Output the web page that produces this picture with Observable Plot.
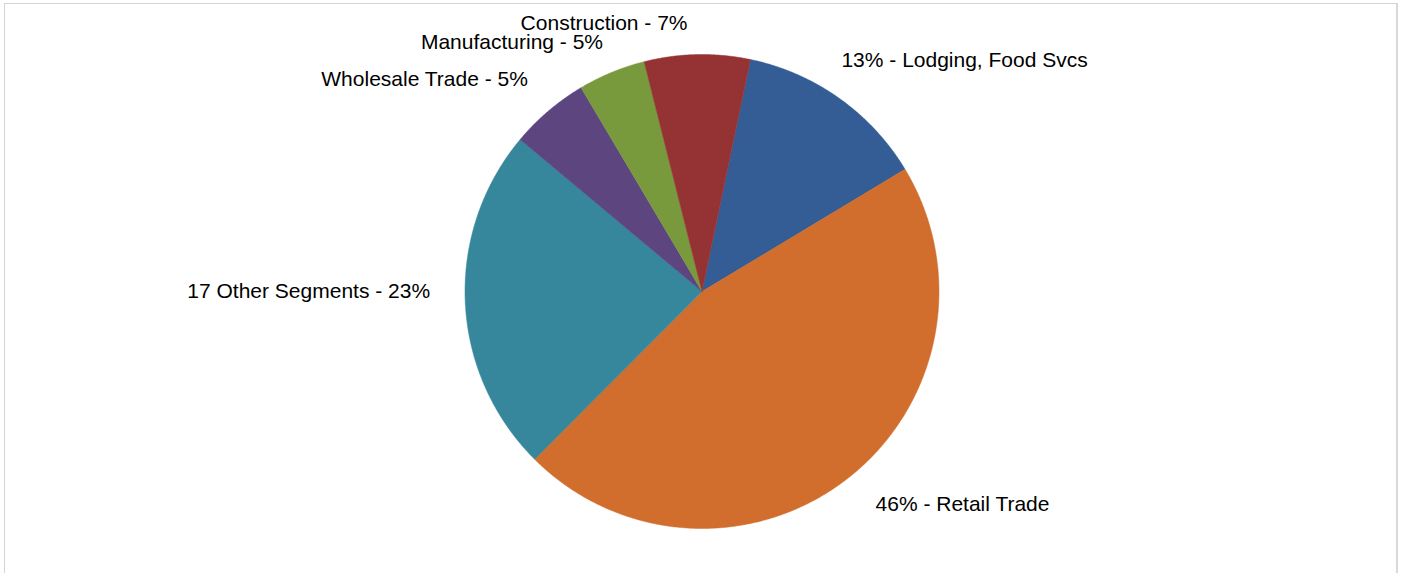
<!DOCTYPE html>
<html>
<head>
<meta charset="utf-8">
<script src="https://cdn.jsdelivr.net/npm/d3@7"></script>
<script src="https://cdn.jsdelivr.net/npm/@observablehq/plot@0.6"></script>
<style>
  html, body { margin: 0; padding: 0; background: #fff; }
  #wrap { position: relative; width: 1401px; height: 573px; overflow: hidden; }
  #frame { position: absolute; left: 4px; top: 3px; width: 1391px; height: 600px;
           border-top: 1px solid #d4d4d4; border-left: 1px solid #d4d4d4; border-right: 2px solid #d9d9d9; pointer-events: none; }
</style>
</head>
<body>
<div id="wrap"><div id="frame"></div></div>
<script>
// ---- data ----
const segments = ["Lodging, Food Svcs", "Retail Trade", "17 Other Segments", "Wholesale Trade", "Manufacturing", "Construction"];
const shares   = [13.1, 46.1, 23.6, 5.4, 4.6, 7.2];
const labels   = ["13% - Lodging, Food Svcs", "46% - Retail Trade", "17 Other Segments - 23%", "Wholesale Trade - 5%", "Manufacturing - 5%", "Construction - 7%"];
const colors   = ["#345C95", "#D16E2D", "#36879C", "#5D4580", "#789A3D", "#953334"];

// ---- layout (styling, not data) ----
const W = 1401, H = 573, CX = 701.5, CY = 291, R = 237;
const startDeg = 11.8;
const labelK = 1.14;
const nudges = [[-17, -11], [7, 0], [-2, -12], [1, -6], [4, 1], [-9, 2]]; // px

const pie = d3.pie().sort(null).value(d => d.v)
  .startAngle(startDeg * Math.PI / 180)
  .endAngle(startDeg * Math.PI / 180 + 2 * Math.PI);
const arcs = pie(segments.map((s, i) => ({s, v: shares[i], i})));

const poly = [];
arcs.forEach(a => {
  const n = Math.max(2, Math.ceil((a.endAngle - a.startAngle) / (Math.PI / 720)));
  poly.push({s: a.data.s, x: 0, y: 0});
  for (let k = 0; k <= n; k++) {
    const t = a.startAngle + (a.endAngle - a.startAngle) * k / n;
    poly.push({s: a.data.s, x: Math.sin(t), y: Math.cos(t)});
  }
  poly.push({s: a.data.s, x: 0, y: 0});
});

const lab = arcs.map((a, i) => {
  const m = (a.startAngle + a.endAngle) / 2;
  return {
    text: labels[i],
    x: labelK * Math.sin(m) + nudges[i][0] / R,
    y: labelK * Math.cos(m) - nudges[i][1] / R,
    anchor: Math.sin(m) >= 0 ? "start" : "end"
  };
});

const chart = Plot.plot({
  width: W, height: H, margin: 0,
  style: {fontFamily: "'Liberation Sans', Arial, sans-serif", fontSize: "21px", background: "transparent", overflow: "visible"},
  x: {domain: [-CX / R, (W - CX) / R], axis: null},
  y: {domain: [-(H - CY) / R, CY / R], axis: null},
  color: {domain: segments, range: colors},
  marks: [
    Plot.line(poly, {x: "x", y: "y", z: "s", fill: "s", stroke: "s", strokeWidth: 0.5, curve: "linear"}),
    Plot.text(lab.filter(d => d.anchor === "start"), {x: "x", y: "y", text: "text", textAnchor: "start", lineAnchor: "middle", fill: "#000", fontSize: 21}),
    Plot.text(lab.filter(d => d.anchor === "end"), {x: "x", y: "y", text: "text", textAnchor: "end", lineAnchor: "middle", fill: "#000", fontSize: 21})
  ]
});
chart.style.position = "absolute";
chart.style.left = "0";
chart.style.top = "0";
document.getElementById("wrap").prepend(chart);
</script>
</body>
</html>
